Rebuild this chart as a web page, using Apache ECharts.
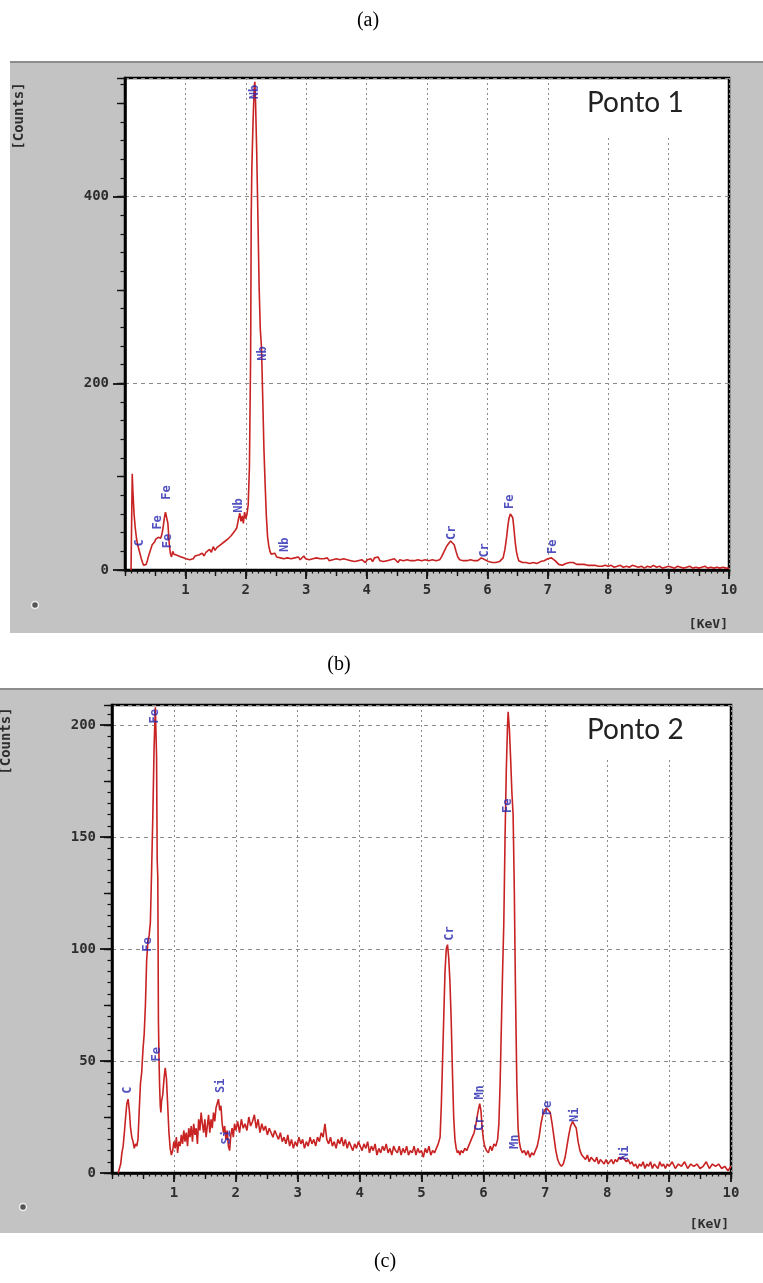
<!DOCTYPE html>
<html><head><meta charset="utf-8">
<script src="https://cdn.jsdelivr.net/npm/echarts@6/dist/echarts.min.js"></script>
<style>html,body{margin:0;padding:0;background:#fff}#c{width:763px;height:1283px}</style>
</head><body><div id="c"></div>
<script>
// ---------- DATA ----------
const panelTitles = ['Ponto 1', 'Ponto 2'];
const captions = ['(a)', '(b)', '(c)'];
const xTicks = [1, 2, 3, 4, 5, 6, 7, 8, 9, 10];
const yTicks1 = [0, 200, 400];
const yTicks2 = [0, 50, 100, 150, 200];

// Ponto 1 spectrum [keV, counts]
const spectrum1 = [[0.10,0],[0.11,0],[0.12,103],[0.13,85],[0.15,60],[0.17,45],[0.19,34],[0.21,27],[0.23,22],[0.25,17],[0.27,12],[0.29,8],[0.31,5],[0.33,3],[0.35,6],[0.37,10],[0.39,15],[0.41,19],[0.43,23],[0.45,27],[0.47,25],[0.49,30],[0.51,33],[0.53,31],[0.55,35],[0.57,36],[0.59,34],[0.61,38],[0.63,45],[0.65,55],[0.67,62],[0.69,64],[0.71,50],[0.73,30],[0.75,18],[0.77,14],[0.79,20],[0.81,17],[0.83,19],[0.85,16],[0.87,18],[0.89,15],[0.91,17],[0.93,14],[0.95,16],[0.97,13],[0.99,15],
[1.01,12],[1.04,14],[1.07,11],[1.10,13],[1.13,12],[1.16,15],[1.19,13],[1.22,16],[1.25,14],[1.28,18],[1.31,15],[1.34,19],[1.37,17],[1.40,22],[1.43,19],[1.46,25],[1.49,21],[1.52,24],[1.55,22],[1.58,27],[1.61,25],[1.64,30],[1.67,28],[1.70,33],[1.73,31],[1.76,37],[1.79,35],[1.82,42],[1.85,45],[1.88,55],[1.90,61],[1.92,52],[1.94,58],[1.96,50],[1.98,62],
[2.00,55],[2.02,60],[2.04,70],[2.06,110],[2.08,230],[2.09,380],[2.10,430],[2.12,480],[2.14,518],[2.15,523],[2.16,505],[2.18,450],[2.20,380],[2.22,305],[2.24,258],[2.26,238],[2.28,185],[2.30,130],[2.32,92],[2.34,58],[2.36,36],[2.38,26],[2.40,20],[2.42,17],[2.45,15],[2.48,18],[2.51,14],[2.54,16],[2.57,13],[2.60,15],[2.63,12],[2.66,14],[2.69,13],[2.72,15],[2.75,12],[2.78,14],[2.81,13],[2.84,12],[2.87,14],[2.90,11],[2.93,13],[2.96,15],[2.99,12],
[3.02,14],[3.05,11],[3.08,13],[3.11,12],[3.14,10],[3.17,13],[3.20,11],[3.23,12],[3.26,10],[3.29,12],[3.32,11],[3.35,13],[3.38,10],[3.41,12],[3.44,11],[3.47,9],[3.50,12],[3.53,10],[3.56,11],[3.59,9],[3.62,12],[3.65,10],[3.68,11],[3.71,9],[3.74,10],[3.77,12],[3.80,9],[3.83,11],[3.86,10],[3.89,9],[3.92,11],[3.95,10],[3.98,8],
[4.01,11],[4.04,10],[4.07,12],[4.10,9],[4.13,13],[4.16,11],[4.19,14],[4.22,10],[4.25,12],[4.28,9],[4.31,11],[4.34,10],[4.37,8],[4.40,11],[4.43,9],[4.46,12],[4.49,10],[4.52,8],[4.55,11],[4.58,9],[4.61,10],[4.64,8],[4.67,11],[4.70,9],[4.73,10],[4.76,8],[4.79,10],[4.82,9],[4.85,11],[4.88,9],[4.91,10],[4.94,8],[4.97,11],
[5.00,9],[5.03,10],[5.06,8],[5.09,11],[5.12,9],[5.15,10],[5.18,12],[5.21,11],[5.24,14],[5.27,18],[5.30,22],[5.33,26],[5.36,28],[5.39,31],[5.42,30],[5.45,27],[5.48,20],[5.51,14],[5.54,11],[5.57,9],[5.60,10],[5.63,8],[5.66,10],[5.69,9],[5.72,11],[5.75,9],[5.78,10],[5.81,11],[5.84,10],[5.87,12],[5.90,13],[5.93,12],[5.96,11],[5.99,10],
[6.02,9],[6.05,10],[6.08,8],[6.11,9],[6.14,8],[6.17,10],[6.20,9],[6.23,11],[6.26,13],[6.29,22],[6.32,36],[6.34,48],[6.36,56],[6.38,60],[6.40,61],[6.42,56],[6.44,44],[6.46,30],[6.48,20],[6.50,14],[6.52,10],[6.55,9],[6.58,8],[6.61,10],[6.64,8],[6.67,9],[6.70,7],[6.73,9],[6.76,8],[6.79,9],[6.82,7],[6.85,8],[6.88,9],[6.91,8],[6.94,10],[6.97,11],
[7.00,12],[7.03,13],[7.06,13],[7.09,12],[7.12,10],[7.15,8],[7.18,6],[7.21,7],[7.24,5],[7.27,6],[7.30,7],[7.33,9],[7.36,8],[7.39,9],[7.42,8],[7.45,7],[7.48,6],[7.51,5],[7.54,6],[7.57,5],[7.60,6],[7.63,4],[7.66,5],[7.69,6],[7.72,5],[7.75,4],[7.78,5],[7.81,6],[7.84,4],[7.87,5],[7.90,4],[7.95,5],
[8.00,4],[8.05,5],[8.10,3],[8.15,4],[8.20,5],[8.25,3],[8.30,4],[8.35,3],[8.40,5],[8.45,4],[8.50,3],[8.55,4],[8.60,2],[8.65,4],[8.70,3],[8.75,5],[8.80,3],[8.85,4],[8.90,2],[8.95,3],
[9.00,4],[9.05,3],[9.10,2],[9.15,4],[9.20,3],[9.25,2],[9.30,3],[9.35,4],[9.40,2],[9.45,3],[9.50,2],[9.55,3],[9.60,4],[9.65,2],[9.70,3],[9.75,2],[9.80,3],[9.85,2],[9.90,3],[9.95,2],[10.00,2]];

// Ponto 2 spectrum [keV, counts]
const spectrum2 = [[0.10,0],[0.12,0],[0.14,4],[0.16,9],[0.18,12],[0.20,18],[0.22,25],[0.24,31],[0.26,33],[0.28,28],[0.30,20],[0.32,16],[0.34,14],[0.36,11],[0.38,13],[0.40,12],[0.42,15],[0.44,28],[0.46,40],[0.48,45],[0.50,55],[0.52,62],[0.54,75],[0.56,95],[0.58,103],[0.60,106],[0.62,112],[0.64,135],[0.66,160],[0.68,190],[0.70,208],[0.72,186],[0.73,140],[0.74,132],[0.75,68],[0.76,50],[0.77,38],[0.78,30],[0.79,27],[0.80,32],[0.82,35],[0.84,42],[0.86,47],[0.88,42],[0.90,30],[0.92,18],[0.94,11],[0.96,8],[0.98,10],
[1.00,14],[1.02,11],[1.04,16],[1.06,9],[1.08,14],[1.10,12],[1.12,17],[1.14,13],[1.16,19],[1.18,14],[1.20,18],[1.22,12],[1.24,20],[1.26,16],[1.28,21],[1.30,14],[1.32,22],[1.34,17],[1.36,20],[1.38,13],[1.40,24],[1.42,19],[1.44,27],[1.46,22],[1.48,18],[1.50,24],[1.52,16],[1.54,21],[1.56,26],[1.58,18],[1.60,24],[1.62,20],[1.64,27],[1.66,23],[1.68,29],[1.70,31],[1.72,33],[1.74,28],[1.76,30],[1.78,22],[1.80,18],[1.82,21],[1.84,15],[1.86,19],[1.88,12],[1.90,10],[1.92,17],[1.94,20],[1.96,16],[1.98,22],
[2.00,19],[2.03,23],[2.06,18],[2.09,24],[2.12,20],[2.15,22],[2.18,19],[2.21,25],[2.24,21],[2.27,23],[2.30,26],[2.33,20],[2.36,24],[2.39,18],[2.42,22],[2.45,19],[2.48,21],[2.51,17],[2.54,20],[2.57,18],[2.60,16],[2.63,19],[2.66,17],[2.69,15],[2.72,18],[2.75,14],[2.78,16],[2.81,13],[2.84,17],[2.87,12],[2.90,15],[2.93,11],[2.96,14],[2.99,12],
[3.02,16],[3.05,13],[3.08,15],[3.11,11],[3.14,14],[3.17,12],[3.20,16],[3.23,13],[3.26,15],[3.29,12],[3.32,16],[3.35,14],[3.38,18],[3.41,16],[3.44,22],[3.47,15],[3.50,13],[3.53,16],[3.56,12],[3.59,14],[3.62,11],[3.65,15],[3.68,13],[3.71,16],[3.74,12],[3.77,15],[3.80,11],[3.83,14],[3.86,12],[3.89,10],[3.92,13],[3.95,11],[3.98,14],
[4.01,12],[4.04,10],[4.07,13],[4.10,11],[4.13,14],[4.16,9],[4.19,12],[4.22,10],[4.25,13],[4.28,8],[4.31,11],[4.34,9],[4.37,12],[4.40,10],[4.43,13],[4.46,9],[4.49,11],[4.52,8],[4.55,12],[4.58,10],[4.61,9],[4.64,12],[4.67,8],[4.70,11],[4.73,9],[4.76,12],[4.79,8],[4.82,10],[4.85,9],[4.88,12],[4.91,8],[4.94,11],[4.97,9],
[5.00,10],[5.03,7],[5.06,11],[5.09,9],[5.12,12],[5.15,8],[5.18,10],[5.21,9],[5.24,11],[5.27,13],[5.30,16],[5.32,30],[5.34,50],[5.36,70],[5.38,90],[5.40,100],[5.42,102],[5.44,96],[5.46,85],[5.48,68],[5.50,45],[5.52,25],[5.54,15],[5.56,11],[5.58,9],[5.60,10],[5.62,8],[5.64,10],[5.67,9],[5.70,11],[5.73,10],[5.76,12],[5.79,14],[5.82,16],[5.85,18],[5.88,22],[5.91,27],[5.94,31],[5.96,28],[5.98,20],
[6.00,15],[6.02,12],[6.05,10],[6.08,9],[6.11,12],[6.14,10],[6.17,13],[6.20,12],[6.23,15],[6.25,22],[6.27,40],[6.29,65],[6.31,90],[6.33,112],[6.35,150],[6.37,180],[6.39,200],[6.40,206],[6.42,198],[6.44,185],[6.46,170],[6.48,160],[6.50,125],[6.51,100],[6.52,78],[6.54,40],[6.56,20],[6.58,14],[6.60,11],[6.63,9],[6.66,10],[6.69,8],[6.72,10],[6.75,7],[6.78,9],[6.81,8],[6.84,10],[6.87,12],[6.90,16],[6.93,22],[6.96,26],[6.99,28],
[7.02,29],[7.05,28],[7.08,27],[7.11,22],[7.14,16],[7.17,10],[7.20,6],[7.23,4],[7.26,3],[7.29,4],[7.32,7],[7.35,12],[7.38,17],[7.41,21],[7.44,23],[7.47,23],[7.50,20],[7.53,14],[7.56,10],[7.59,8],[7.62,7],[7.65,6],[7.68,8],[7.71,5],[7.74,7],[7.77,6],[7.80,5],[7.83,7],[7.86,4],[7.89,6],[7.92,5],[7.95,4],[7.98,6],
[8.01,4],[8.04,5],[8.07,6],[8.10,4],[8.13,6],[8.16,5],[8.19,7],[8.22,6],[8.25,7],[8.28,6],[8.31,5],[8.34,6],[8.37,4],[8.40,5],[8.43,3],[8.46,4],[8.49,2],[8.52,4],[8.55,3],[8.58,5],[8.61,2],[8.64,4],[8.67,3],[8.70,5],[8.73,2],[8.76,4],[8.79,3],[8.82,2],[8.85,5],[8.88,3],[8.91,4],[8.94,2],[8.97,4],
[9.00,3],[9.05,5],[9.10,2],[9.15,4],[9.20,3],[9.25,5],[9.30,2],[9.35,4],[9.40,3],[9.45,4],[9.50,2],[9.55,3],[9.60,5],[9.65,2],[9.70,4],[9.75,3],[9.80,4],[9.85,2],[9.90,3],[9.95,1],[10.00,3]];

// element labels [text, keV, counts]
const peakLabels1 = [['C',0.24,29],['Fe',0.54,51],['Fe',0.69,83],['Fe',0.71,31],['Nb',1.88,69],['Nb',2.15,512],['Nb',2.28,232],['Nb',2.64,27],['Cr',5.42,40],['Cr',5.95,21],['Fe',6.38,73],['Fe',7.08,25]];
const peakLabels2 = [['C',0.26,37],['Fe',0.585,102],['Fe',0.69,204],['Fe',0.72,53],['Si',1.76,39],['Si',1.85,16],['Cr',5.46,107],['Cr',5.95,22],['Mn',5.95,36],['Fe',6.40,164],['Mn',6.51,14],['Fe',7.04,29],['Ni',7.47,26],['Ni',8.28,9]];

// ---------- CHART ----------
const chart = echarts.init(document.getElementById('c'), null, {renderer: 'canvas'});
const MONO = "'DejaVu Sans Mono', monospace";
const tickColor = '#111';

function xAxes(grid) {
  const base = {type: 'value', gridIndex: grid, min: 0, max: 10, position: 'bottom'};
  return [
    Object.assign({}, base, {
      interval: 1,
      axisLine: {show: true, onZero: false, lineStyle: {color: '#000', width: 2.5}},
      axisTick: {show: true, inside: false, length: 9, lineStyle: {color: tickColor, width: 1.8}},
      axisLabel: {show: true, margin: 13, showMinLabel: false, color: '#2e2e2e', fontFamily: MONO, fontSize: 14, fontWeight: 'bold',
        formatter: v => (xTicks.indexOf(Math.round(v)) >= 0 && Math.abs(v - Math.round(v)) < 1e-6) ? String(Math.round(v)) : ''},
      splitLine: {show: true, lineStyle: {color: '#8a8a8a', width: 1, type: [2, 3]}}
    }),
    Object.assign({}, base, {interval: 0.5, axisLine: {show: false}, axisLabel: {show: false}, splitLine: {show: false},
      axisTick: {show: true, length: 6, lineStyle: {color: tickColor, width: 1.4}}}),
    Object.assign({}, base, {interval: 0.1, axisLine: {show: false}, axisLabel: {show: false}, splitLine: {show: false},
      axisTick: {show: true, length: 3.5, lineStyle: {color: tickColor, width: 1.2}}})
  ];
}
function yAxes(grid, max, major, ticks) {
  const base = {type: 'value', gridIndex: grid, min: 0, max: max, position: 'left'};
  return [
    Object.assign({}, base, {
      interval: major,
      axisLine: {show: true, onZero: false, lineStyle: {color: '#000', width: 2.5}},
      axisTick: {show: true, length: 12, lineStyle: {color: tickColor, width: 1.8}},
      axisLabel: {show: true, margin: 16, showMaxLabel: false, color: '#2e2e2e', fontFamily: MONO, fontSize: 14, fontWeight: 'bold',
        formatter: v => ticks.indexOf(v) >= 0 ? String(v) : ''},
      splitLine: {show: true, lineStyle: {color: '#8a8a8a', width: 1, type: [4, 4]}}
    }),
    Object.assign({}, base, {interval: major / 2, axisLine: {show: false}, axisLabel: {show: false}, splitLine: {show: false},
      axisTick: {show: true, length: 8, lineStyle: {color: tickColor, width: 1.4}}}),
    Object.assign({}, base, {interval: major / 10, axisLine: {show: false}, axisLabel: {show: false}, splitLine: {show: false},
      axisTick: {show: true, length: 4.5, lineStyle: {color: tickColor, width: 1.2}}})
  ];
}

function labelSeries(list, xi, yi) {
  return {
    type: 'scatter', xAxisIndex: xi, yAxisIndex: yi, symbolSize: 1, silent: true, z: 5,
    itemStyle: {color: 'rgba(0,0,0,0)'},
    data: list.map(d => ({name: d[0], value: [d[1], d[2]]})),
    label: {show: true, position: 'inside', formatter: p => p.name, rotate: 90,
      color: '#2626b0', fontFamily: MONO, fontSize: 12, fontWeight: 'bold'}
  };
}

const lineStyle = {color: '#c82222', width: 1.6};

const option = {
  backgroundColor: '#ffffff',
  animation: false,
  grid: [
    {left: 125, top: 78, width: 604, height: 492, show: true, backgroundColor: '#ffffff', borderColor: '#000', borderWidth: 2.5},
    {left: 112, top: 705, width: 619, height: 468, show: true, backgroundColor: '#ffffff', borderColor: '#000', borderWidth: 2.5}
  ],
  xAxis: [].concat(xAxes(0), xAxes(1)),
  yAxis: [].concat(yAxes(0, 527, 200, yTicks1), yAxes(1, 209, 50, yTicks2)),
  series: [
    {type: 'line', xAxisIndex: 0, yAxisIndex: 0, data: spectrum1, showSymbol: false, lineStyle: lineStyle, z: 3},
    {type: 'line', xAxisIndex: 3, yAxisIndex: 3, data: spectrum2, showSymbol: false, lineStyle: lineStyle, z: 3},
    labelSeries(peakLabels1, 0, 0),
    labelSeries(peakLabels2, 3, 3)
  ],
  graphic: [
    {type: 'rect', shape: {x: 10, y: 62, width: 753, height: 571}, style: {fill: '#c3c3c3'}, z: -10},
    {type: 'rect', shape: {x: 10, y: 61, width: 753, height: 2}, style: {fill: '#8c8c8c'}, z: -9},
    {type: 'rect', shape: {x: 0, y: 689, width: 763, height: 544}, style: {fill: '#c3c3c3'}, z: -10},
    {type: 'rect', shape: {x: 0, y: 688, width: 763, height: 2}, style: {fill: '#8c8c8c'}, z: -9},
    {type: 'rect', shape: {x: 552, y: 80, width: 175, height: 55}, style: {fill: '#ffffff'}, z: 8},
    {type: 'rect', shape: {x: 550, y: 707, width: 179, height: 50}, style: {fill: '#ffffff'}, z: 8},
    {type: 'text', x: 587, y: 117, z: 9, style: {text: panelTitles[0], fill: '#222', font: "28px Lato, 'Open Sans', sans-serif", textVerticalAlign: 'bottom'}},
    {type: 'text', x: 587, y: 744, z: 9, style: {text: panelTitles[1], fill: '#222', font: "28px Lato, 'Open Sans', sans-serif", textVerticalAlign: 'bottom'}},
    {type: 'text', x: 19.5, y: 116, rotation: Math.PI / 2, z: 9, style: {text: '[Counts]', fill: '#2e2e2e', font: "bold 14px 'DejaVu Sans Mono', monospace", textAlign: 'center', textVerticalAlign: 'middle'}},
    {type: 'text', x: 6, y: 741, rotation: Math.PI / 2, z: 9, style: {text: '[Counts]', fill: '#2e2e2e', font: "bold 14px 'DejaVu Sans Mono', monospace", textAlign: 'center', textVerticalAlign: 'middle'}},
    {type: 'text', x: 728, y: 625, z: 9, style: {text: '[KeV]', fill: '#2e2e2e', font: "bold 13px 'DejaVu Sans Mono', monospace", textAlign: 'right', textVerticalAlign: 'middle'}},
    {type: 'text', x: 729, y: 1225, z: 9, style: {text: '[KeV]', fill: '#2e2e2e', font: "bold 13px 'DejaVu Sans Mono', monospace", textAlign: 'right', textVerticalAlign: 'middle'}},
    {type: 'circle', shape: {cx: 35, cy: 605, r: 3.5}, style: {fill: '#555', stroke: '#eee', lineWidth: 1.5}, z: 9},
    {type: 'circle', shape: {cx: 23, cy: 1207, r: 3.5}, style: {fill: '#555', stroke: '#eee', lineWidth: 1.5}, z: 9},
    {type: 'text', x: 368, y: 21, z: 9, style: {text: captions[0], fill: '#000', font: "20px 'Liberation Serif', 'Times New Roman', serif", textAlign: 'center', textVerticalAlign: 'middle'}},
    {type: 'text', x: 339, y: 665, z: 9, style: {text: captions[1], fill: '#000', font: "20px 'Liberation Serif', 'Times New Roman', serif", textAlign: 'center', textVerticalAlign: 'middle'}},
    {type: 'text', x: 385, y: 1262, z: 9, style: {text: captions[2], fill: '#000', font: "20px 'Liberation Serif', 'Times New Roman', serif", textAlign: 'center', textVerticalAlign: 'middle'}}
  ]
};
chart.setOption(option);
</script>
</body></html>
